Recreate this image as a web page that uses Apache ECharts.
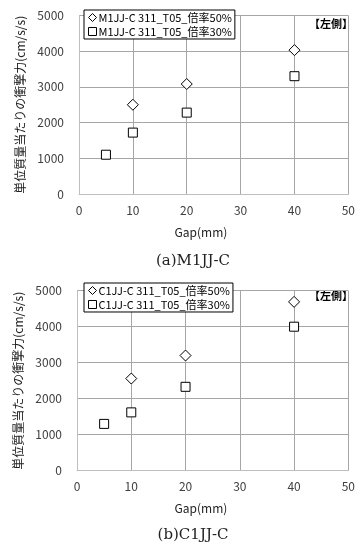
<!DOCTYPE html>
<html>
<head>
<meta charset="utf-8">
<script src="https://cdn.jsdelivr.net/npm/echarts@6/dist/echarts.min.js"></script>
<style>
html,body{margin:0;padding:0;background:#fff;}
#c{width:358px;height:546px;}
</style>
</head>
<body>
<div id="c"></div>
<script>
// Data
var xTicks = [0, 10, 20, 30, 40, 50];
var yTicks = [0, 1000, 2000, 3000, 4000, 5000];

var topName50 = 'M1JJ-C 311_T05_倍率50%';
var topName30 = 'M1JJ-C 311_T05_倍率30%';
var top50Gap = [10, 20, 40];
var top50Val = [2500, 3080, 4030];
var top30Gap = [5, 10, 20, 40];
var top30Val = [1100, 1720, 2280, 3300];

var botName50 = 'C1JJ-C 311_T05_倍率50%';
var botName30 = 'C1JJ-C 311_T05_倍率30%';
var bot50Gap = [10, 20, 40];
var bot50Val = [2560, 3200, 4690];
var bot30Gap = [5, 10, 20, 40];
var bot30Val = [1300, 1620, 2330, 4000];

var yAxisTitle = '単位質量当たりの衝撃力(cm/s/s)';
var xAxisTitle = 'Gap(mm)';
var sideLabel = '【左側】';
var captionTop = '(a)M1JJ-C';
var captionBot = '(b)C1JJ-C';

function pairs(xs, ys) { return xs.map(function (x, i) { return [x, ys[i]]; }); }

var sans = '"Noto Sans CJK JP", "Noto Sans", sans-serif';
var gridColor = '#a6a6a6';

function xAxis(gi) {
  return {
    type: 'value', gridIndex: gi, min: xTicks[0], max: xTicks[xTicks.length - 1], interval: 10,
    axisLine: { show: true, lineStyle: { color: '#bfbfbf', width: 1 } },
    axisTick: { show: false },
    splitLine: { show: true, lineStyle: { color: gridColor, width: 1 } },
    axisLabel: { color: '#404040', fontSize: 12, fontFamily: sans, margin: 10, formatter: function (v) { return String(v); } }
  };
}
function yAxis(gi) {
  return {
    type: 'value', gridIndex: gi, min: yTicks[0], max: yTicks[yTicks.length - 1], interval: 1000,
    axisLine: { show: true, lineStyle: { color: '#bfbfbf', width: 1 } },
    axisTick: { show: false },
    splitLine: { show: true, lineStyle: { color: gridColor, width: 1 } },
    axisLabel: { color: '#404040', fontSize: 12, fontFamily: sans, margin: 15, formatter: function (v) { return String(v); } },
    name: yAxisTitle, nameLocation: 'middle', nameRotate: 90, nameGap: 50,
    nameTextStyle: { color: '#222', fontSize: 12, fontFamily: sans }
  };
}
function scatter(name, xs, ys, symbol, size, xi) {
  return {
    type: 'scatter', name: name, xAxisIndex: xi, yAxisIndex: xi,
    symbol: symbol, symbolSize: size,
    itemStyle: { color: '#ffffff', borderColor: '#000000', borderWidth: 1, opacity: 1 },
    data: pairs(xs, ys)
  };
}
function legend(names, top) {
  return {
    orient: 'vertical', left: 84, top: top, data: names,
    borderColor: '#000', borderWidth: 1, padding: [2, 3, 2, 4], itemGap: 3,
    itemWidth: 8, itemHeight: 8,
    itemStyle: { color: '#ffffff', borderColor: '#000000', borderWidth: 1 },
    textStyle: { color: '#000', fontSize: 11, fontFamily: sans, padding: [0, 0, 0, -3] },
    backgroundColor: '#fff'
  };
}

var chart = echarts.init(document.getElementById('c'), null, { renderer: 'canvas' });
chart.setOption({
  backgroundColor: '#fff',
  animation: false,
  grid: [
    { left: 79, right: 7, top: 15.5, height: 178.5 },
    { left: 77, right: 8, top: 290.7, height: 180 }
  ],
  xAxis: [xAxis(0), xAxis(1)],
  yAxis: [yAxis(0), yAxis(1)],
  legend: [legend([topName50, topName30], 10), legend([botName50, botName30], 283)],
  series: [
    scatter(topName50, top50Gap, top50Val, 'diamond', 11, 0),
    scatter(topName30, top30Gap, top30Val, 'rect', 9, 0),
    scatter(botName50, bot50Gap, bot50Val, 'diamond', 11, 1),
    scatter(botName30, bot30Gap, bot30Val, 'rect', 9, 1)
  ],
  graphic: [
    { type: 'text', x: 201, y: 232, style: { text: xAxisTitle, fill: '#222', font: '12px ' + sans, align: 'center', verticalAlign: 'middle' } },
    { type: 'text', x: 201, y: 508, style: { text: xAxisTitle, fill: '#222', font: '12px ' + sans, align: 'center', verticalAlign: 'middle' } },
    { type: 'text', x: 353, y: 24, style: { text: sideLabel, fill: '#000', font: 'bold 11px ' + sans, align: 'right', verticalAlign: 'middle' } },
    { type: 'text', x: 353, y: 296, style: { text: sideLabel, fill: '#000', font: 'bold 11px ' + sans, align: 'right', verticalAlign: 'middle' } },
    { type: 'text', x: 193, y: 261, style: { text: captionTop, fill: '#222', font: '15px "DejaVu Serif", serif', align: 'center', verticalAlign: 'middle' } },
    { type: 'text', x: 193, y: 535, style: { text: captionBot, fill: '#222', font: '15px "DejaVu Serif", serif', align: 'center', verticalAlign: 'middle' } }
  ]
});
</script>
</body>
</html>
